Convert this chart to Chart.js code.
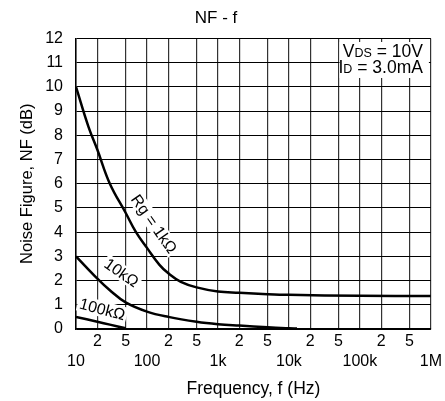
<!DOCTYPE html>
<html>
<head>
<meta charset="utf-8">
<script src="https://cdn.jsdelivr.net/npm/chart.js@4/dist/chart.umd.min.js"></script>
<style>
  body { margin: 0; background: #fff; }
  canvas { display: block; }
</style>
</head>
<body>
<canvas id="nf" width="445" height="401"></canvas>
<script>
// NF - f curves
const freq1k = [10, 15, 20, 30, 50, 70, 100, 150, 200, 300, 500, 1000, 2000, 5000, 10000, 100000, 1000000]
const nf1k = [10, 8.35, 7.4, 6.0, 4.8, 4.0, 3.35, 2.65, 2.3, 1.95, 1.72, 1.55, 1.5, 1.44, 1.41, 1.37, 1.36]

const freq10k = [10, 20, 30, 50, 100, 200, 500, 1000, 2000, 5000, 10000, 13000]
const nf10k = [3.0, 2.08, 1.6, 1.1, 0.72, 0.5, 0.3, 0.2, 0.14, 0.07, 0.03, 0.02]

const freq100k = [10, 20, 30, 50]
const nf100k = [0.5, 0.3, 0.18, 0.03]

const curveLabels = ['Rg = 1kΩ', '10kΩ', '100kΩ']

// x ticks: value + two-row label (minor on row 1, decade on row 2)
const xTickValues = [10, 20, 50, 100, 200, 500, 1000, 2000, 5000, 10000, 20000, 50000, 100000, 200000, 500000, 1000000]
const xTickLabels = [['', '10'], ['2', ''], ['5', ''], ['', '100'], ['2', ''], ['5', ''], ['', '1k'], ['2', ''], ['5', ''],
  ['', '10k'], ['2', ''], ['5', ''], ['', '100k'], ['2', ''], ['5', ''], ['', '1M']]

const FONT = "'Liberation Sans', Arial, sans-serif"

const pts = (xs, ys) => xs.map((x, i) => ({ x, y: ys[i] }))

const labelPlugin = {
  id: 'labels',
  beforeDatasetsDraw(chart) {
    const { ctx, chartArea, scales: { x, y } } = chart
    ctx.save()
    // condition box, top right
    const bx = x.getPixelForValue(50000) + 1
    ctx.fillStyle = '#fff'
    ctx.fillRect(bx, 42, chartArea.right - 2 - bx, 36)
    ctx.fillStyle = '#000'
    ctx.textBaseline = 'alphabetic'
    const rightX = chartArea.right - 8
    drawSub(ctx, 'V', 'DS', ' = 10V', rightX, 57)
    drawSub(ctx, 'I', 'D', ' = 3.0mA', rightX, 73)

    // curve names, rotated along the curves
    const spots = [
      { f: 126, nf: 4.34, a: 55 },
      { f: 43.9, nf: 2.33, a: 35 },
      { f: 23.5, nf: 0.82, a: 15 }
    ]
    ctx.font = '16px ' + FONT
    curveLabels.forEach((t, i) => {
      const s = spots[i]
      const px = x.getPixelForValue(s.f)
      const py = y.getPixelForValue(s.nf)
      const w = ctx.measureText(t).width
      ctx.save()
      ctx.translate(px, py)
      ctx.rotate(s.a * Math.PI / 180)
      ctx.fillStyle = '#fff'
      ctx.fillRect(-w / 2 - 2, -8, w + 4, 16)
      ctx.fillStyle = '#000'
      ctx.textAlign = 'center'
      ctx.textBaseline = 'middle'
      ctx.fillText(t, 0, 1)
      ctx.restore()
    })
    ctx.restore()
  }
}

function drawSub(ctx, main, sub, rest, right, base) {
  ctx.font = '17.5px ' + FONT
  const w1 = ctx.measureText(main).width
  const w3 = ctx.measureText(rest).width
  ctx.font = '12.5px ' + FONT
  const w2 = ctx.measureText(sub).width
  let x0 = right - w1 - w2 - w3
  ctx.textAlign = 'left'
  ctx.font = '17.5px ' + FONT
  ctx.fillText(main, x0, base)
  ctx.font = '12.5px ' + FONT
  ctx.fillText(sub, x0 + w1, base)
  ctx.font = '17.5px ' + FONT
  ctx.fillText(rest, x0 + w1 + w2, base)
}

const lineStyle = {
  borderColor: '#000',
  borderWidth: 2.5,
  pointRadius: 0,
  fill: false,
  tension: 0.4
}

new Chart(document.getElementById('nf'), {
  type: 'line',
  data: {
    datasets: [
      { ...lineStyle, label: curveLabels[0], data: pts(freq1k, nf1k) },
      { ...lineStyle, label: curveLabels[1], data: pts(freq10k, nf10k) },
      { ...lineStyle, label: curveLabels[2], data: pts(freq100k, nf100k) }
    ]
  },
  options: {
    responsive: false,
    animation: false,
    layout: { padding: { left: 0, right: 13, top: 0, bottom: 0 } },
    plugins: {
      legend: { display: false },
      tooltip: { enabled: false },
      title: {
        display: true,
        text: 'NF - f',
        color: '#000',
        font: { family: FONT, size: 17, weight: 'normal' },
        padding: { top: 8, bottom: 10 }
      }
    },
    scales: {
      x: {
        type: 'logarithmic',
        min: 10,
        max: 1000000,
        afterBuildTicks: s => { s.ticks = xTickValues.map(v => ({ value: v })) },
        afterFit: s => { s.height = 72 },
        ticks: {
          autoSkip: false,
          maxRotation: 0,
          padding: 3,
          color: '#000',
          font: { family: FONT, size: 16, lineHeight: 1.25 },
          callback: (v, i) => xTickLabels[i]
        },
        grid: { color: '#333', lineWidth: 1.2, drawTicks: false },
        border: { color: '#000', width: 1.5 },
        title: {
          display: true,
          text: 'Frequency, f (Hz)',
          color: '#000',
          font: { family: FONT, size: 17.5 },
          padding: { top: 0, bottom: 1 }
        }
      },
      y: {
        min: 0,
        max: 12,
        afterFit: s => { s.width = 76 },
        ticks: {
          stepSize: 1,
          padding: 13,
          color: '#000',
          font: { family: FONT, size: 16 }
        },
        grid: { color: '#000', lineWidth: 1, drawTicks: false },
        border: { color: '#000', width: 1.5 },
        title: {
          display: true,
          text: 'Noise Figure, NF (dB)',
          color: '#000',
          font: { family: FONT, size: 16.5 },
          padding: { top: 18, bottom: 0 }
        }
      }
    }
  },
  plugins: [labelPlugin]
})
</script>
</body>
</html>
